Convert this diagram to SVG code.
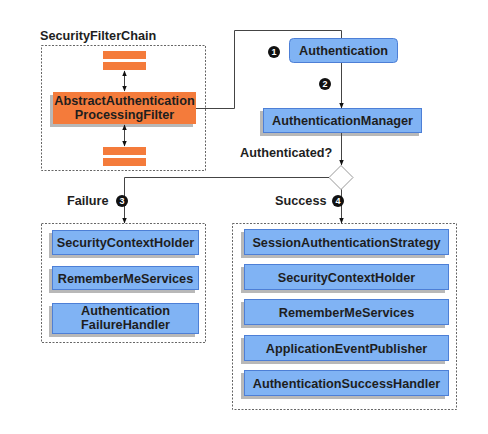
<svg xmlns="http://www.w3.org/2000/svg" width="488" height="434" viewBox="0 0 488 434">
<defs>
<style>
text{font-family:"Liberation Sans",Arial,sans-serif;font-weight:bold;font-size:12.7px;fill:#1e1e1e}
.c{text-anchor:middle}
.grp{fill:none;stroke:#666;stroke-width:1;stroke-dasharray:2,1.5}
.blue{fill:#80b3f4;stroke:#4d7fd6;stroke-width:1}
.sh{fill:#9a9a9a;opacity:0.7}
.org{fill:#f47b3b}
.ln{fill:none;stroke:#444;stroke-width:1}
.num{fill:#111}
.nt{fill:#fff;font-size:9px;text-anchor:middle}
</style>
<marker id="ah" viewBox="0 0 10 10" refX="9" refY="5" markerWidth="6" markerHeight="6" orient="auto-start-reverse" markerUnits="userSpaceOnUse">
<path d="M0,1 L10,5 L0,9 z" fill="#111"/>
</marker>
</defs>
<rect width="488" height="434" fill="#fff"/>

<g id="securityFilterChain">
<text x="40" y="40">SecurityFilterChain</text>
<rect class="grp" x="41.5" y="45.5" width="164" height="125"/>
<rect class="org" x="103" y="51" width="43" height="8"/>
<rect class="org" x="103" y="62" width="43" height="8"/>
<rect class="org" x="103" y="147" width="43" height="8"/>
<rect class="org" x="103" y="158" width="43" height="8"/>
</g>

<g id="abstractAuthenticationProcessingFilter">
<rect class="sh" x="50" y="95" width="143" height="32"/>
<rect class="org" x="53" y="92" width="143" height="32"/>
<text class="c" x="124.5" y="105">AbstractAuthentication</text>
<text class="c" x="124.5" y="119">ProcessingFilter</text>
</g>

<g id="authentication">
<rect class="blue" x="289.5" y="38.5" width="108" height="24" rx="4"/>
<text class="c" x="343.5" y="55">Authentication</text>
</g>

<g id="authenticationManager">
<rect class="sh" x="260" y="111" width="159" height="25"/>
<rect class="blue" x="263.5" y="108.5" width="158" height="24"/>
<text class="c" x="342.5" y="125">AuthenticationManager</text>
</g>

<g id="decision">
<path d="M341,165.5 L353,177.5 L341,189.5 L329,177.5 z" fill="#fff" stroke="#999" stroke-width="1"/>
<text x="240" y="157">Authenticated?</text>
</g>

<g id="failure">
<text x="67" y="205">Failure</text>
<rect class="grp" x="41.5" y="223.5" width="164" height="119"/>
<rect class="sh" x="49" y="233" width="146" height="25"/>
<rect class="blue" x="52.5" y="230.5" width="146" height="24"/>
<text class="c" x="125.5" y="247">SecurityContextHolder</text>
<rect class="sh" x="49" y="269" width="146" height="24"/>
<rect class="blue" x="52.5" y="266.5" width="146" height="23"/>
<text class="c" x="125.5" y="283">RememberMeServices</text>
<rect class="sh" x="49" y="306" width="146" height="31"/>
<rect class="blue" x="52.5" y="303.5" width="146" height="30"/>
<text class="c" x="125.5" y="315">Authentication</text>
<text class="c" x="125.5" y="329">FailureHandler</text>
</g>

<g id="success">
<text x="275" y="205">Success</text>
<rect class="grp" x="232.5" y="223.5" width="224" height="186"/>
<rect class="sh" x="241" y="232" width="204" height="26"/>
<rect class="blue" x="244.5" y="229.5" width="204" height="25"/>
<text class="c" x="346.5" y="246.5">SessionAuthenticationStrategy</text>
<rect class="sh" x="241" y="267" width="204" height="26"/>
<rect class="blue" x="244.5" y="264.5" width="204" height="25"/>
<text class="c" x="346.5" y="281.5">SecurityContextHolder</text>
<rect class="sh" x="241" y="302" width="204" height="26"/>
<rect class="blue" x="244.5" y="299.5" width="204" height="25"/>
<text class="c" x="346.5" y="316.5">RememberMeServices</text>
<rect class="sh" x="241" y="338" width="204" height="26"/>
<rect class="blue" x="244.5" y="335.5" width="204" height="25"/>
<text class="c" x="346.5" y="352.5">ApplicationEventPublisher</text>
<rect class="sh" x="241" y="373" width="204" height="26"/>
<rect class="blue" x="244.5" y="370.5" width="204" height="25"/>
<text class="c" x="346.5" y="387.5">AuthenticationSuccessHandler</text>
</g>

<g id="connectors">
<path class="ln" d="M196,108.5 H234.5 V30.5 H341.5 V38"/>
<path class="ln" d="M341.5,63 V108" marker-end="url(#ah)"/>
<path class="ln" d="M341.5,133 V165" marker-end="url(#ah)"/>
<path class="ln" d="M329,177.5 H124.5 V223" marker-end="url(#ah)"/>
<path class="ln" d="M341.5,189.5 V223" marker-end="url(#ah)"/>
<path class="ln" d="M124.5,71 V91" marker-start="url(#ah)" marker-end="url(#ah)"/>
<path class="ln" d="M124.5,125 V146" marker-start="url(#ah)" marker-end="url(#ah)"/>
</g>

<g id="markers">
<circle class="num" cx="274" cy="52" r="6"/><text class="nt" x="274" y="55.3">1</text>
<circle class="num" cx="325" cy="84" r="6"/><text class="nt" x="325" y="87.3">2</text>
<circle class="num" cx="122" cy="201" r="6"/><text class="nt" x="122" y="204.3">3</text>
<circle class="num" cx="338" cy="201" r="6"/><text class="nt" x="338" y="204.3">4</text>
</g>
</svg>
